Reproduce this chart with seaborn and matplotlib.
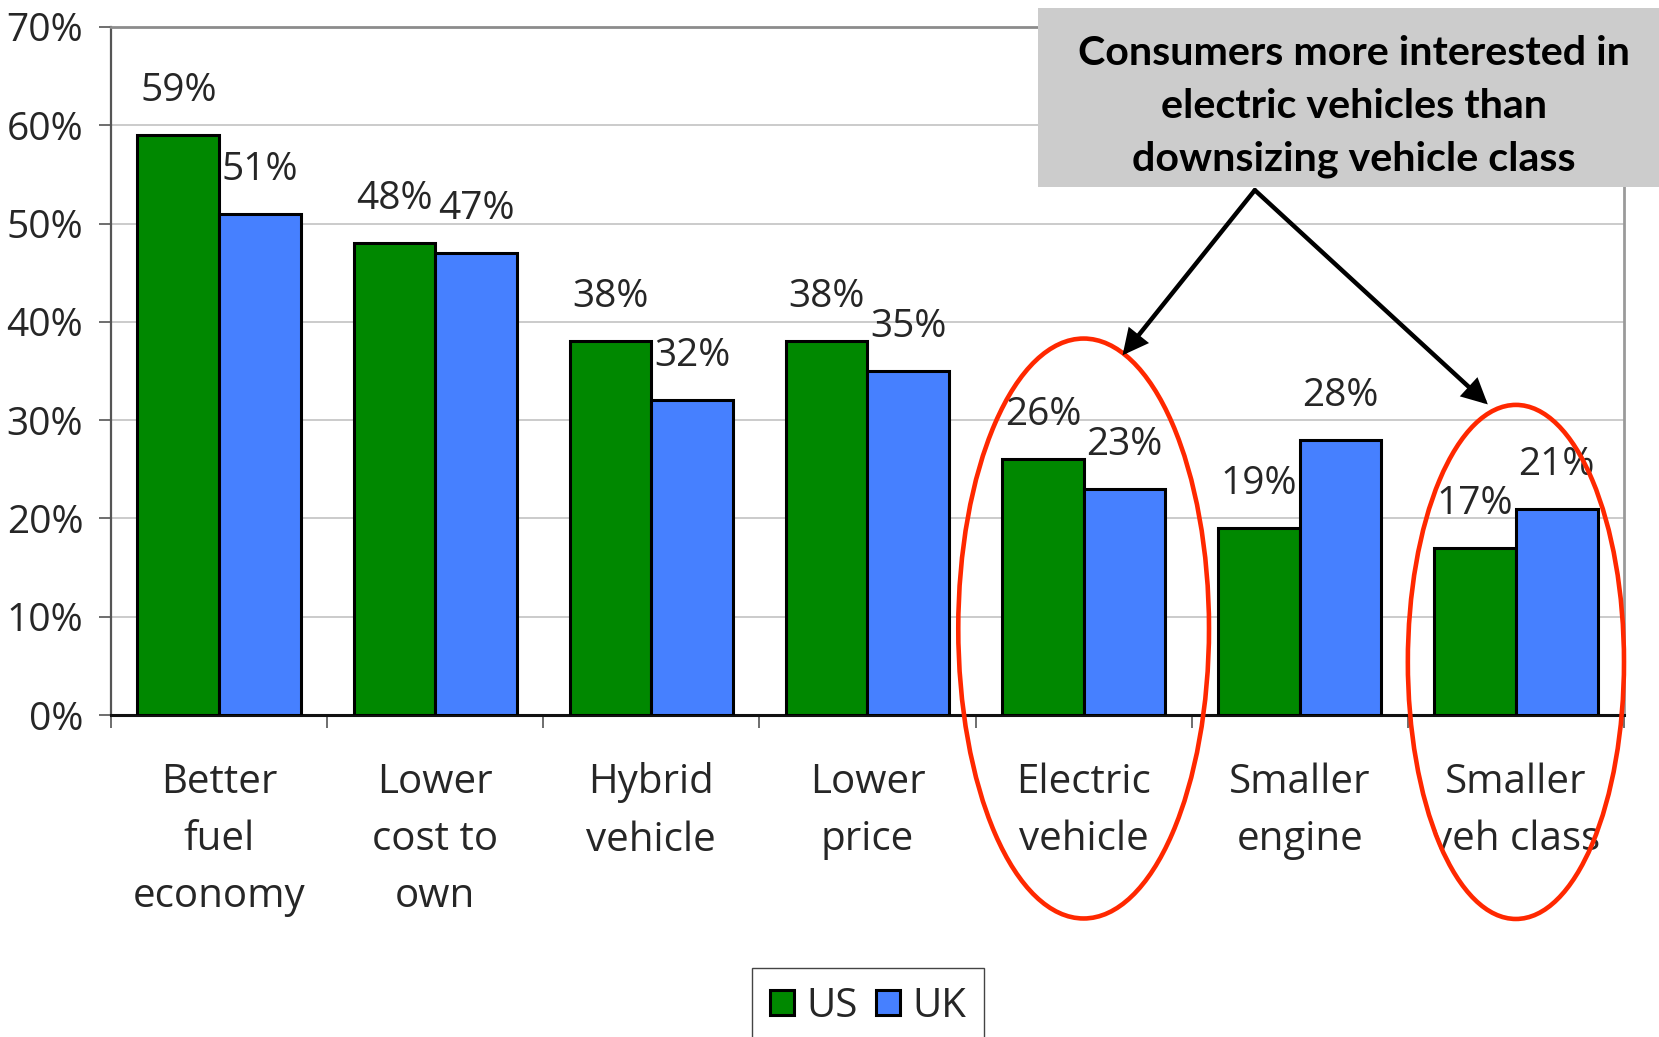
import matplotlib
matplotlib.use("Agg")
import matplotlib.pyplot as plt
from matplotlib.patches import Ellipse, Rectangle, Patch
from matplotlib.ticker import FixedLocator, PercentFormatter
import numpy as np
import pandas as pd
import seaborn as sns

# ---- data -------------------------------------------------------------
categories = ["Better\nfuel\neconomy", "Lower\ncost to\nown", "Hybrid\nvehicle",
              "Lower\nprice", "Electric\nvehicle", "Smaller\nengine",
              "Smaller\nveh class"]
us_share = [59, 48, 38, 38, 26, 19, 17]
uk_share = [51, 47, 32, 35, 23, 28, 21]
regions = ["US", "UK"]
y_ticks = [0, 10, 20, 30, 40, 50, 60, 70]
callout_lines = ["Consumers more interested in",
                 "electric vehicles than",
                 "downsizing vehicle class"]

region_colors = {"US": "#008800", "UK": "#4680FF"}

df = pd.DataFrame({
    "feature": categories * 2,
    "region": ["US"] * len(categories) + ["UK"] * len(categories),
    "share": us_share + uk_share,
})

# ---- style ------------------------------------------------------------
sns.set_style("white")
plt.rcParams["font.family"] = ["DejaVu Sans Condensed", "Open Sans", "DejaVu Sans"]
FS = 29
FS_NUM = 28

fig = plt.figure(figsize=(16.59, 10.37), dpi=100)
ax = fig.add_axes([0.0669, 0.3105, 0.912, 0.6635])

sns.barplot(data=df, x="feature", y="share", hue="region", hue_order=regions,
            order=categories, palette=region_colors, saturation=1, width=0.755,
            edgecolor="black", linewidth=2.2, legend=False, ax=ax, zorder=3)

ax.set_xlim(-0.5, len(categories) - 0.5)
ax.set_ylim(0, 70)
ax.set_xlabel("")
ax.set_ylabel("")
ax.yaxis.set_major_locator(FixedLocator(y_ticks))
ax.yaxis.set_major_formatter(PercentFormatter(xmax=100, decimals=0))
ax.set_axisbelow(True)
ax.grid(axis="y", color="#bdbdbd", lw=1.1)
ax.grid(axis="x", visible=False)

# boundary ticks between groups
ax.set_xticks(np.arange(-0.5, len(categories), 1.0), minor=True)
ax.tick_params(axis="x", which="major", length=0, pad=34, labelsize=FS)
ax.tick_params(axis="x", which="minor", length=9, width=1.2, color="#555555",
               direction="out", bottom=True)
ax.tick_params(axis="y", length=9, width=1.2, color="#555555", direction="out",
               left=True, pad=11, labelsize=FS_NUM)
for lbl in ax.get_xticklabels():
    lbl.set_linespacing(1.55)

for side, col, lw in [("top", "#8c8c8c", 2.0), ("right", "#9a9a9a", 2.0),
                      ("left", "#555555", 1.6), ("bottom", "#111111", 2.2)]:
    ax.spines[side].set_visible(True)
    ax.spines[side].set_color(col)
    ax.spines[side].set_linewidth(lw)

# value labels above each bar
for cont in ax.containers:
    ax.bar_label(cont, fmt="{:.0f}%", padding=18, fontsize=FS_NUM)

# legend at the bottom
handles = [Patch(facecolor=region_colors[r], edgecolor="black", linewidth=2.2,
                 label=r) for r in regions]
fig.legend(handles=handles, loc="upper left", bbox_to_anchor=(0.4533, 0.0666),
           ncol=2, fontsize=FS, frameon=True, fancybox=False, edgecolor="#444444",
           framealpha=1, handlelength=0.6, handleheight=0.6, handletextpad=0.3,
           columnspacing=0.45, borderpad=0.45, borderaxespad=0)

# highlight ellipses around the two comparison groups
for cx, cy, w, h in [(4.0, 8.8, 1.16, 59.0), (6.0, 5.4, 1.0, 52.3)]:
    ax.add_patch(Ellipse((cx, cy), w, h, facecolor="none", edgecolor="#FF2800",
                         lw=3.3, clip_on=False, zorder=6))

# callout box with arrows
fig.add_artist(Rectangle((0.6257, 0.8197), 0.40, 0.1726, transform=fig.transFigure,
                         facecolor="#cccccc", edgecolor="none", zorder=10))
for y, line in zip([0.937, 0.8864, 0.8359], callout_lines):
    fig.text(0.816, y, line, ha="center", va="baseline", fontsize=29.7,
             fontweight="bold", family=["Lato", "DejaVu Sans"], color="black",
             zorder=11)

apex = (4.792, 53.4)
for target in [(4.18, 36.6), (5.87, 31.6)]:
    ax.annotate("", xy=target, xytext=apex, xycoords="data",
                arrowprops=dict(arrowstyle="-|>", color="black", lw=3.2,
                                mutation_scale=34, shrinkA=0, shrinkB=0,
                                joinstyle="miter"),
                annotation_clip=False, zorder=7)

fig.savefig("out.png", dpi=100)
